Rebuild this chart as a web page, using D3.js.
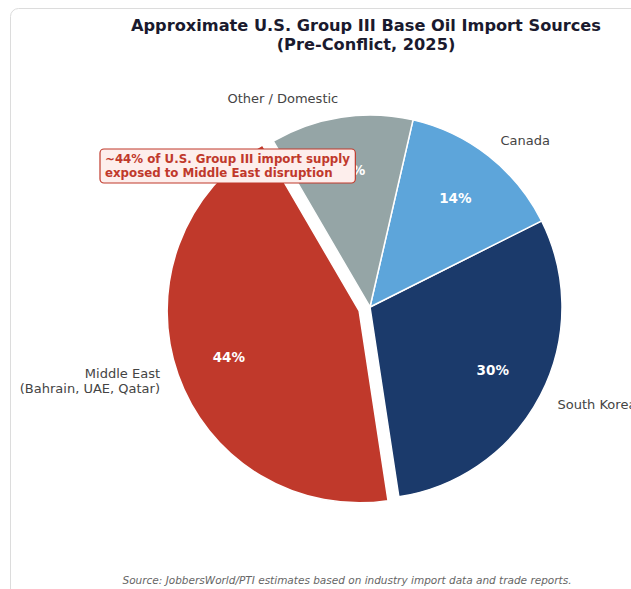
<!DOCTYPE html>
<html>
<head>
<meta charset="utf-8">
<title>U.S. Group III Base Oil Import Sources</title>
<style>
  body { margin: 0; background: #fff; }
  svg { display: block; font-family: "DejaVu Sans", sans-serif; }
</style>
</head>
<body>
<svg width="631" height="589"></svg>
<script src="https://cdn.jsdelivr.net/npm/d3@7/dist/d3.min.js"></script>
<script>
// data
var sources = ["Middle East", "South Korea", "Canada", "Other / Domestic"];
var labels = [["Middle East", "(Bahrain, UAE, Qatar)"], ["South Korea"], ["Canada"], ["Other / Domestic"]];
var shares = [44, 30, 14, 12];
var colors = ["#c0392b", "#1b3a6b", "#5da5da", "#95a5a6"];
var explode = [0.06, 0, 0, 0];

var svg = d3.select("svg");
var cx = 370, cy = 307, r = 192;
var start = -30.25 * Math.PI / 180;

// card
svg.append("rect")
  .attr("x", 10.5).attr("y", 8.5)
  .attr("width", 720).attr("height", 610)
  .attr("rx", 8)
  .attr("fill", "#fff").attr("stroke", "#dcdcdc");

// title
var title = svg.append("text")
  .attr("text-anchor", "middle")
  .attr("font-size", 16.2).attr("font-weight", "bold")
  .attr("fill", "#1a1a2e");
title.append("tspan").attr("x", 366).attr("y", 31).text("Approximate U.S. Group III Base Oil Import Sources");
title.append("tspan").attr("x", 366).attr("y", 50).text("(Pre-Conflict, 2025)");

// pie drawn counter-clockwise from the Other/Middle East edge
var pie = d3.pie().sort(null)
  .startAngle(start + 2 * Math.PI)
  .endAngle(start);
var arcs = pie(shares);
var arc = d3.arc().innerRadius(0).outerRadius(r);

function mid(d) { return (d.startAngle + d.endAngle) / 2; }
function offset(d, i) {
  var a = mid(d), k = explode[i] * r;
  return [cx + Math.sin(a) * k, cy - Math.cos(a) * k];
}

var slices = svg.selectAll(".slice")
  .data(arcs)
  .enter().append("g")
  .attr("class", "slice")
  .attr("transform", function(d, i) { var o = offset(d, i); return "translate(" + o[0] + "," + o[1] + ")"; });

slices.append("path")
  .attr("d", arc)
  .attr("fill", function(d, i) { return colors[i]; })
  .attr("stroke", "#fff")
  .attr("stroke-width", 1.5);

// percent labels
slices.append("text")
  .attr("x", function(d) { return Math.sin(mid(d)) * r * 0.72; })
  .attr("y", function(d) { return -Math.cos(mid(d)) * r * 0.72; })
  .attr("dy", "0.35em")
  .attr("text-anchor", "middle")
  .attr("font-size", 13.5).attr("font-weight", "bold")
  .attr("fill", "#fff")
  .text(function(d) { return d.data + "%"; });

// category labels
slices.each(function(d, i) {
  var a = mid(d), s = Math.sin(a), c = -Math.cos(a);
  var lines = labels[i];
  var t = d3.select(this).append("text")
    .attr("text-anchor", s > 0 ? "start" : "end")
    .attr("font-size", 13)
    .attr("fill", "#444");
  lines.forEach(function(line, j) {
    t.append("tspan")
      .attr("x", s * r * 1.1)
      .attr("y", c * r * 1.1 + (j - (lines.length - 1) / 2) * 15.5)
      .attr("dy", "0.35em")
      .text(line);
  });
});

// annotation
var note = svg.append("g");
var noteText = note.append("text")
  .attr("font-size", 11.8).attr("font-weight", "bold")
  .attr("fill", "#c0392b");
noteText.append("tspan").attr("x", 105).attr("y", 163).text("~44% of U.S. Group III import supply");
noteText.append("tspan").attr("x", 105).attr("y", 177).text("exposed to Middle East disruption");
var bb = noteText.node().getBBox();
note.insert("rect", "text")
  .attr("x", bb.x - 5).attr("y", bb.y - 3)
  .attr("width", bb.width + 10).attr("height", bb.height + 6)
  .attr("rx", 4)
  .attr("fill", "#fdeeec").attr("stroke", "#c0392b").attr("stroke-width", 1.2);

// source
svg.append("text")
  .attr("x", 347).attr("y", 584)
  .attr("text-anchor", "middle")
  .attr("font-size", 10.5).attr("font-style", "italic")
  .attr("fill", "#666")
  .text("Source: JobbersWorld/PTI estimates based on industry import data and trade reports.");
</script>
</body>
</html>
